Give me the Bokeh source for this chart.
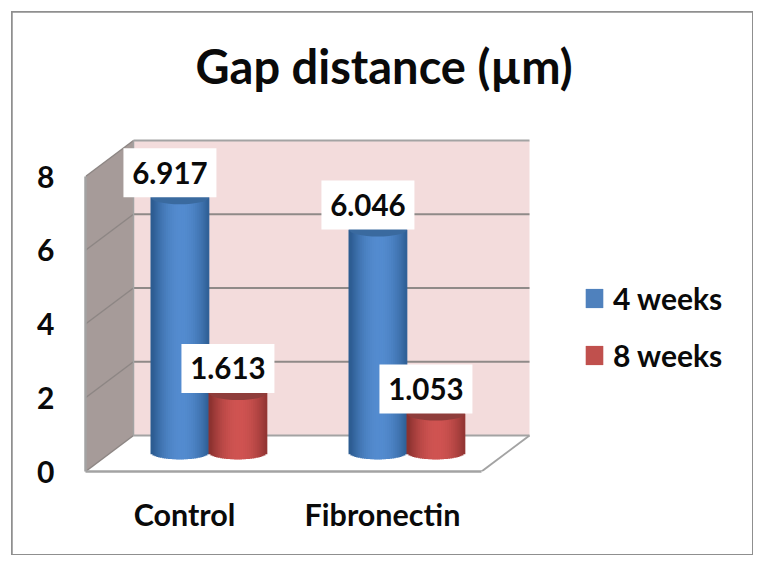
from bokeh.plotting import figure
from bokeh.embed import file_html
from bokeh.resources import INLINE
from bokeh.models import (Range1d, FixedTicker, Legend, LegendItem, ColumnDataSource)
from bokeh.core.properties import value
import numpy as np

# ---- data ----
categories = ["Control", "Fibronectin"]
series_names = ["4 weeks", "8 weeks"]
weeks4 = [6.917, 6.046]
weeks8 = [1.613, 1.053]
y_ticks = [0, 2, 4, 6, 8]
title_text = "Gap distance (µm)"

FONT = "Lato"
TEXTC = "#0a0a0a"
GRID = "#8f8a88"
EDGE = "#a3a3a3"

# figure starts at (12,12) in the window; its CSS outline is the picture's frame
W, H = 740, 542
ML, MR, MT, MB = 73, 17, 98, 83
PX_X = 198.0      # pixels per category
PX_Y = 36.875     # pixels per value unit
DX, DY = 48 / PX_X, 36 / PX_Y   # full 3D depth offset

p = figure(width=W, height=H, output_backend="svg", toolbar_location=None,
           x_range=Range1d(-0.5, -0.5 + (W - ML - MR) / PX_X),
           y_range=Range1d(0, (H - MT - MB) / PX_Y),
           min_border_left=ML, min_border_right=MR, min_border_top=MT, min_border_bottom=MB,
           background_fill_color="white", border_fill_color="white", outline_line_color=None)
p.margin = (12, 0, 0, 12)
p.styles = {"outline": "2px solid #8f8f8f", "outline-offset": "-1px"}
p.grid.visible = False


def proj(x, v, d):
    return x + d * DX, v + d * DY


xl, xr = -0.5, 1.5
vmax = y_ticks[-1]

# left wall
wx = [proj(xl, 0, 0)[0], proj(xl, 0, 1)[0], proj(xl, vmax, 1)[0], proj(xl, vmax, 0)[0]]
wy = [proj(xl, 0, 0)[1], proj(xl, 0, 1)[1], proj(xl, vmax, 1)[1], proj(xl, vmax, 0)[1]]
p.patch(wx, wy, fill_color="#a69b99", line_color=None)
# back wall
bx = [proj(xl, 0, 1)[0], proj(xr, 0, 1)[0], proj(xr, vmax, 1)[0], proj(xl, vmax, 1)[0]]
by = [proj(xl, 0, 1)[1], proj(xr, 0, 1)[1], proj(xr, vmax, 1)[1], proj(xl, vmax, 1)[1]]
p.patch(bx, by, fill_color="#f3dcdc", line_color=None)

# gridlines
p.multi_line([[proj(xl, t, 1)[0], proj(xr, t, 1)[0]] for t in y_ticks],
             [[proj(xl, t, 1)[1], proj(xr, t, 1)[1]] for t in y_ticks],
             line_color=[GRID if 0 < t < vmax else EDGE for t in y_ticks], line_width=2)
p.multi_line([[proj(xl, t, 0)[0], proj(xl, t, 1)[0]] for t in y_ticks],
             [[proj(xl, t, 0)[1], proj(xl, t, 1)[1]] for t in y_ticks],
             line_color="#8d8684", line_width=1.5)
p.line([proj(xl, 0, 1)[0], proj(xl, vmax, 1)[0]], [proj(xl, 0, 1)[1], proj(xl, vmax, 1)[1]],
       line_color=EDGE, line_width=1.5)
# floor right edge
p.line([proj(xr, 0, 0)[0], proj(xr, 0, 1)[0]], [proj(xr, 0, 0)[1], proj(xr, 0, 1)[1]],
       line_color=EDGE, line_width=2)

BAR_W = 58 / PX_X
DEPTH = 0.53
SHIFT = -1 / PX_X
ELL_H = 14 / PX_Y
palettes = {
    "4 weeks": dict(flat="#4f81bd", edge=(44, 92, 145), mid=(84, 140, 208), top="#3a6a9f"),
    "8 weeks": dict(flat="#c0504d", edge=(140, 50, 48), mid=(208, 84, 82), top="#8f3d3b"),
}
N = 30
legend_items = []
label_x, label_v, label_t = [], [], []
for si, (name, vals) in enumerate(zip(series_names, [weeks4, weeks8])):
    pal = palettes[name]
    xs = [proj(i + (si - 0.5) * BAR_W, 0, DEPTH)[0] + SHIFT for i in range(len(vals))]
    base_v = [proj(0, 0, DEPTH)[1]] * len(vals)
    tops = [proj(0, v, DEPTH)[1] for v in vals]
    body = p.vbar(x=xs, bottom=base_v, top=tops, width=BAR_W, fill_color=pal["flat"], line_color=None)
    legend_items.append(LegendItem(label=name, renderers=[body]))
    # shading strips round the cylinder, bottom edge following the ellipse
    edges = np.linspace(-1, 1, N + 1)
    cent = (edges[:-1] + edges[1:]) / 2
    q = dict(l=[], r=[], b=[], t=[], c=[])
    for cx, b0, t0 in zip(xs, base_v, tops):
        for e0, e1, tc in zip(edges[:-1], edges[1:], cent):
            f = abs(tc - 0.05) ** 2.0
            f = min(f * 1.05, 1)
            col = tuple(int(m + (e - m) * f) for m, e in zip(pal["mid"], pal["edge"]))
            q["l"].append(cx + e0 * BAR_W / 2 - 0.002)
            q["r"].append(cx + e1 * BAR_W / 2 + 0.002)
            q["b"].append(b0 - ELL_H / 2 * np.sqrt(max(1 - tc * tc, 0)))
            q["t"].append(t0)
            q["c"].append("#%02x%02x%02x" % col)
    p.quad(left="l", right="r", bottom="b", top="t", fill_color="c", line_color=None,
           source=ColumnDataSource(q))
    p.ellipse(x=xs, y=tops, width=BAR_W, height=ELL_H, fill_color=pal["top"], line_color=None)
    for cx, t0, v in zip(xs, tops, vals):
        label_x.append(cx - 10 / PX_X)
        label_v.append(t0)
        label_t.append(f"{v:.3f}")

# value labels (white boxes sit on top of each bar)
BOX_W, BOX_H = 93 / PX_X, 49 / PX_Y
p.quad(left=[x - BOX_W / 2 for x in label_x], right=[x + BOX_W / 2 for x in label_x],
       bottom=label_v, top=[v + BOX_H for v in label_v], fill_color="white", line_color=None)
p.text(x=label_x, y=[v + BOX_H / 2 for v in label_v], text=label_t, text_align="center",
       text_baseline="middle", text_color=TEXTC, text_font=value(FONT), text_font_style="bold",
       text_font_size="29.5px")

# axes
xa = p.xaxis[0]
xa.ticker = FixedTicker(ticks=[0, 1])
xa.major_label_overrides = {i: c for i, c in enumerate(categories)}
xa.bounds = (xl, xr)
xa.axis_line_color = EDGE
xa.axis_line_width = 2.5
xa.major_tick_line_color = None
xa.minor_tick_line_color = None
xa.major_label_standoff = 18
xa.major_label_text_font = FONT
xa.major_label_text_font_style = "bold"
xa.major_label_text_font_size = "30.5px"
xa.major_label_text_color = TEXTC

ya = p.yaxis[0]
ya.ticker = FixedTicker(ticks=y_ticks)
ya.bounds = (0, vmax)
ya.axis_line_color = EDGE
ya.axis_line_width = 2.5
ya.major_tick_line_color = None
ya.minor_tick_line_color = None
ya.major_label_standoff = 25
ya.major_label_text_font = FONT
ya.major_label_text_font_style = "bold"
ya.major_label_text_font_size = "30px"
ya.major_label_text_color = TEXTC

# title
p.title.text = title_text
p.title.align = "left"
p.title.offset = 110
p.title.standoff = 34
p.title.text_font = FONT
p.title.text_font_style = "bold"
p.title.text_font_size = "47px"
p.title.text_color = TEXTC

# legend
leg = Legend(items=legend_items, location=(498, 98), orientation="vertical",
             background_fill_alpha=0, border_line_color=None,
             glyph_width=22, glyph_height=24, spacing=21, padding=0, margin=0,
             label_standoff=8, label_text_font=FONT, label_text_font_style="bold",
             label_text_font_size="30px", label_text_color=TEXTC)
p.add_layout(leg)

open("out.html", "w").write(file_html(p, INLINE))
